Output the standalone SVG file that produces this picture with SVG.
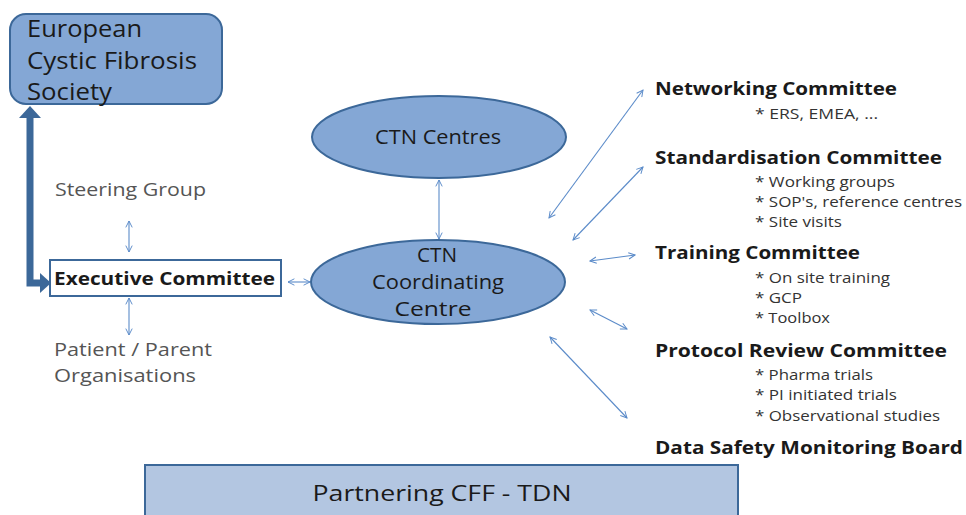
<svg xmlns="http://www.w3.org/2000/svg" width="966" height="515" viewBox="0 0 966 515">
<defs>
<marker id="oa" viewBox="0 0 10 10" refX="9" refY="5" markerWidth="8" markerHeight="8" orient="auto-start-reverse" markerUnits="userSpaceOnUse">
<path d="M1,1 L9,5 L1,9" fill="none" stroke="#5b8bc9" stroke-width="1.2"/>
</marker>
</defs>
<style>
.blue{fill:#84a7d5;stroke:#3c6899;stroke-width:2}
.t{font-family:"Open Sans","Liberation Sans",sans-serif;fill:#1a1a1a}
.g{font-family:"Open Sans","Liberation Sans",sans-serif;fill:#555}
.b{font-family:"Open Sans","Liberation Sans",sans-serif;font-weight:bold;fill:#1a1a1a}
.s{font-family:"Open Sans","Liberation Sans",sans-serif;fill:#333;font-size:14px}
.thin{fill:none;stroke:#5b8bc9;stroke-width:1.1;marker-start:url(#oa);marker-end:url(#oa)}
</style>
<rect width="966" height="515" fill="#fff"/>
<g id="ecfs">
<rect class="blue" x="10" y="14" width="212" height="90" rx="16"/>
<text class="t" font-size="24" x="27" y="37" textLength="115" lengthAdjust="spacingAndGlyphs">European</text>
<text class="t" font-size="24" x="27" y="69" textLength="170" lengthAdjust="spacingAndGlyphs">Cystic Fibrosis</text>
<text class="t" font-size="24" x="27" y="100" textLength="85" lengthAdjust="spacingAndGlyphs">Society</text>
</g>
<g id="steering">
<text class="g" font-size="18" x="55" y="196" textLength="151" lengthAdjust="spacingAndGlyphs">Steering Group</text>
</g>
<g id="executive">
<rect x="50" y="260" width="231" height="36" fill="#fff" stroke="#3c6899" stroke-width="2"/>
<text class="b" font-size="18" x="54" y="285" textLength="221" lengthAdjust="spacingAndGlyphs">Executive Committee</text>
</g>
<g id="patient">
<text class="g" font-size="18" x="54" y="356" textLength="158" lengthAdjust="spacingAndGlyphs">Patient / Parent</text>
<text class="g" font-size="18" x="54" y="382" textLength="142" lengthAdjust="spacingAndGlyphs">Organisations</text>
</g>
<g id="ctn-centres">
<ellipse class="blue" cx="439" cy="137" rx="127" ry="41"/>
<text class="t" font-size="20" x="438" y="144" text-anchor="middle" textLength="126" lengthAdjust="spacingAndGlyphs">CTN Centres</text>
</g>
<g id="ctn-coordinating">
<ellipse class="blue" cx="438" cy="282" rx="127" ry="42"/>
<text class="t" font-size="20" x="437" y="262" text-anchor="middle" textLength="40" lengthAdjust="spacingAndGlyphs">CTN</text>
<text class="t" font-size="20" x="438" y="289" text-anchor="middle" textLength="132" lengthAdjust="spacingAndGlyphs">Coordinating</text>
<text class="t" font-size="20" x="433" y="316" text-anchor="middle" textLength="77" lengthAdjust="spacingAndGlyphs">Centre</text>
</g>
<g id="networking">
<text class="b" font-size="18" x="655" y="95" textLength="242" lengthAdjust="spacingAndGlyphs">Networking Committee</text>
<text class="s" x="755" y="119" textLength="123" lengthAdjust="spacingAndGlyphs">* ERS, EMEA, ...</text>
</g>
<g id="standardisation">
<text class="b" font-size="18" x="655" y="164" textLength="287" lengthAdjust="spacingAndGlyphs">Standardisation Committee</text>
<text class="s" x="755" y="187" textLength="140" lengthAdjust="spacingAndGlyphs">* Working groups</text>
<text class="s" x="755" y="207" textLength="207" lengthAdjust="spacingAndGlyphs">* SOP's, reference centres</text>
<text class="s" x="755" y="227" textLength="87" lengthAdjust="spacingAndGlyphs">* Site visits</text>
</g>
<g id="training">
<text class="b" font-size="18" x="655" y="259" textLength="205" lengthAdjust="spacingAndGlyphs">Training Committee</text>
<text class="s" x="755" y="283" textLength="135" lengthAdjust="spacingAndGlyphs">* On site training</text>
<text class="s" x="755" y="303" textLength="47" lengthAdjust="spacingAndGlyphs">* GCP</text>
<text class="s" x="755" y="323" textLength="75" lengthAdjust="spacingAndGlyphs">* Toolbox</text>
</g>
<g id="protocol">
<text class="b" font-size="18" x="655" y="357" textLength="292" lengthAdjust="spacingAndGlyphs">Protocol Review Committee</text>
<text class="s" x="755" y="380" textLength="118" lengthAdjust="spacingAndGlyphs">* Pharma trials</text>
<text class="s" x="755" y="400" textLength="142" lengthAdjust="spacingAndGlyphs">* PI initiated trials</text>
<text class="s" x="755" y="421" textLength="185" lengthAdjust="spacingAndGlyphs">* Observational studies</text>
</g>
<g id="dsmb">
<text class="b" font-size="18" x="655" y="454" textLength="308" lengthAdjust="spacingAndGlyphs">Data Safety Monitoring Board</text>
</g>
<g id="partnering">
<rect x="145" y="465" width="593" height="60" fill="#b3c6e1" stroke="#3c6899" stroke-width="2"/>
<text class="t" font-size="22" x="442" y="501" text-anchor="middle" textLength="259" lengthAdjust="spacingAndGlyphs">Partnering CFF - TDN</text>
</g>
<g id="connectors">
<path d="M30,116 L30,283 L41,283" fill="none" stroke="#3c6899" stroke-width="7"/>
<path d="M19,118 L30,106 L41,118 Z" fill="#3c6899"/>
<path d="M40,273 L51,283 L40,293 Z" fill="#3c6899"/>
<path class="thin" d="M129,221 L129,252"/>
<path class="thin" d="M129,298 L129,335"/>
<path class="thin" d="M288,282 L310,282"/>
<path class="thin" d="M439,180 L439,239"/>
<path class="thin" d="M549,218 L643,90"/>
<path class="thin" d="M573,240 L643,167"/>
<path class="thin" d="M590,261 L635,255"/>
<path class="thin" d="M590,310 L627,329"/>
<path class="thin" d="M550,337 L627,418"/>
</g>
</svg>
